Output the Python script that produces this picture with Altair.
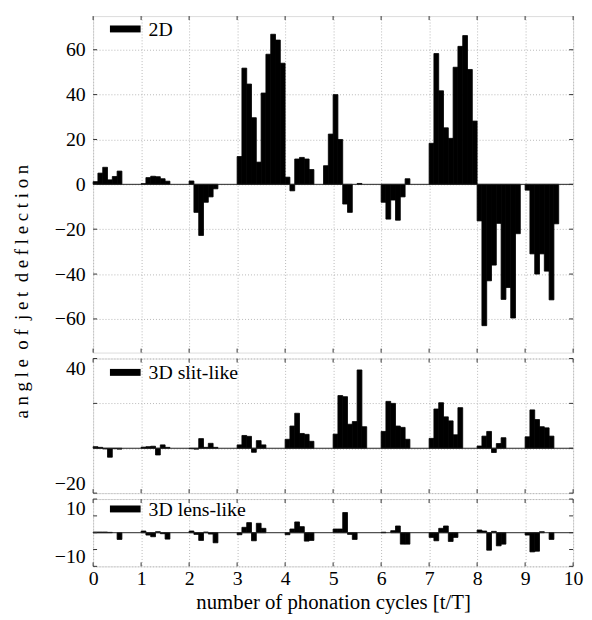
import altair as alt
import pandas as pd

FONT = "Liberation Serif, Times New Roman, DejaVu Serif, serif"
W = 485
H_TOP, H_MID, H_BOT = 340, 136, 68
STEP = 0.1  # sampling interval of the bars (cycles)

# ---------------- data ----------------
# 2D
t_2d = [0.0, 0.1, 0.2, 0.3, 0.4, 0.5,
        1.0, 1.1, 1.2, 1.3, 1.4, 1.5,
        2.0, 2.1, 2.2, 2.3, 2.4, 2.5,
        3.0, 3.1, 3.2, 3.3, 3.4, 3.5, 3.6, 3.7, 3.8, 3.9,
        4.0, 4.1, 4.2, 4.3, 4.4, 4.5, 4.8, 4.9,
        5.0, 5.1, 5.2, 5.3, 5.5,
        6.0, 6.1, 6.2, 6.3, 6.4, 6.5,
        7.0, 7.1, 7.2, 7.3, 7.4, 7.5, 7.6, 7.7, 7.8, 7.9,
        8.0, 8.1, 8.2, 8.3, 8.4, 8.5, 8.6, 8.7, 8.8,
        9.0, 9.1, 9.2, 9.3, 9.4, 9.5, 9.6]
v_2d = [1.2, 5, 7.6, 2, 3.5, 5.9,
        0.3, 3, 3.6, 3.4, 2.5, 1.4,
        1.5, -12.5, -22.8, -8, -5.6, -2,
        12.4, 51.8, 44.7, 29.7, 9.9, 40.7, 58, 66.9, 64.3, 54,
        3.2, -2.9, 11.3, 12, 11.3, 6.6, 8.3, 22.4,
        40, 20, -8.8, -12.5, 0.4,
        -8, -15.5, -7, -16, -5.6, 2.5,
        18.3, 58.3, 41.7, 25.2, 20.5, 52.2, 61.5, 66.3, 51.2, 28.2,
        -16.3, -63, -43, -36, -17.4, -51.3, -46, -59.6, -22,
        -2.6, -31, -40, -31, -38.7, -51.5, -17.6]

# 3D slit-like
t_slit = [0.0, 0.1, 0.2, 0.3, 0.4, 0.5,
          1.0, 1.1, 1.2, 1.3, 1.4, 1.5,
          2.0, 2.1, 2.2, 2.3, 2.4, 2.5,
          3.0, 3.1, 3.2, 3.3, 3.4, 3.5,
          4.0, 4.1, 4.2, 4.3, 4.4, 4.5,
          5.0, 5.1, 5.2, 5.3, 5.4, 5.5, 5.6,
          6.0, 6.1, 6.2, 6.3, 6.4, 6.5,
          7.0, 7.1, 7.2, 7.3, 7.4, 7.5, 7.6,
          8.0, 8.1, 8.2, 8.3, 8.4, 8.5,
          9.0, 9.1, 9.2, 9.3, 9.4, 9.5]
v_slit = [0.7, 0.4, -0.3, -4, -0.2, -0.4,
          0.5, 0.7, 0.9, -3, 1.5, 0.4,
          -0.2, -0.4, 4.3, 0.4, 2.2, 0.4,
          1.5, 5.7, 5.3, -1.8, 3.4, 1.5,
          4, 9.9, 15.6, 6.6, 6.2, 3.1,
          6.3, 23.5, 23, 10.7, 11.9, 34.9, 9.6,
          7.5, 20.9, 20, 9.9, 9.3, 4,
          4.4, 17.5, 20.3, 14, 12.2, 6, 18.1,
          1, 5.4, 7.5, -1.9, 2.1, 4.7,
          5.1, 17.1, 12.8, 9.6, 9.1, 5.4]

# 3D lens-like
t_lens = [0.0, 0.1, 0.2, 0.3, 0.5,
          1.0, 1.1, 1.2, 1.3, 1.4, 1.5,
          2.0, 2.1, 2.2, 2.3, 2.4, 2.5,
          3.0, 3.1, 3.2, 3.3, 3.4, 3.5,
          4.0, 4.1, 4.2, 4.3, 4.4, 4.5,
          5.0, 5.1, 5.2, 5.3, 5.4,
          6.0, 6.2, 6.3, 6.4, 6.5,
          7.0, 7.1, 7.2, 7.3, 7.4, 7.5,
          8.0, 8.1, 8.2, 8.3, 8.4, 8.5,
          9.0, 9.1, 9.2, 9.3, 9.5]
v_lens = [0.2, 0.2, 0.2, 0.1, -2,
          0.5, -0.7, -1.2, 0.3, -0.3, -1.9,
          0.5, -0.5, -2.3, 0.2, -0.4, -3,
          -0.6, 1.6, 3, -2.4, 2.8, 1.3,
          -0.6, 1.1, 3.2, 1.8, -2.5, -2.3,
          1.1, 1.1, 6, -0.5, -2,
          0.15, 0.6, 2, -3.4, -3.4,
          -1.4, -2.4, 1.3, 2, -2.6, -1.4,
          0.8, 0.5, -5.2, 0.4, -3.9, -3.4,
          -0.7, -5.7, -5.5, 0.3, -2]

legend_labels = ["2D", "3D slit-like", "3D lens-like"]
x_ticks = [0, 1, 2, 3, 4, 5, 6, 7, 8, 9, 10]
y_ticks_top = [-60, -40, -20, 0, 20, 40, 60]
y_ticks_mid = [-20, 0, 20, 40]
y_ticks_bot = [-10, -5, 0, 5, 10]
y_title = "\u00a0".join("angle") + "\u00a0\u00a0" + "\u00a0".join("of") + "\u00a0\u00a0" + \
          "\u00a0".join("jet") + "\u00a0\u00a0" + "\u00a0".join("deflection")
x_title = "number of phonation cycles [t/T]"

GRID = dict(grid=True, gridColor="#b8b8b8", gridDash=[1, 2], gridWidth=1)


def panel(t, v, label, ydom, yvals, h, show_x, yaxis_extra, legend_dy):
    df = pd.DataFrame({"t": t, "v": v})
    df["t2"] = df["t"] + STEP

    if show_x:
        xaxis = alt.Axis(values=x_ticks, labels=True, ticks=False, domain=False,
                         title=x_title, labelFont=FONT, labelFontSize=20,
                         labelPadding=2, labelFlush=False, labelColor="black",
                         titleFont=FONT, titleFontSize=21, titleFontWeight="normal",
                         titlePadding=4, titleColor="black", **GRID)
    else:
        xaxis = alt.Axis(values=x_ticks, labels=False, ticks=False, domain=False,
                         title=None, **GRID)

    yaxis = alt.Axis(values=yvals, ticks=False, domain=False, labelFont=FONT,
                     labelFontSize=20, labelPadding=8, labelFlush=True,
                     labelColor="black", **GRID, **yaxis_extra)

    bars = alt.Chart(df).mark_rect(color="black", stroke="black", strokeWidth=0.8).encode(
        x=alt.X("t:Q", scale=alt.Scale(domain=[0, 10], nice=False, zero=False), axis=xaxis),
        x2="t2:Q",
        y=alt.Y("v:Q", scale=alt.Scale(domain=ydom, nice=False), axis=yaxis),
        y2=alt.datum(0),
    )

    zero = alt.Chart(pd.DataFrame({"v": [0]})).mark_rule(color="#222", strokeWidth=1).encode(
        y="v:Q")

    xt = pd.DataFrame({"t": x_ticks})
    yt = pd.DataFrame({"v": yvals})
    tick_top = alt.Chart(xt).mark_rule(color="#333").encode(
        x="t:Q", y=alt.value(0), y2=alt.value(4))
    tick_bot = alt.Chart(xt).mark_rule(color="#333").encode(
        x="t:Q", y=alt.value(h - 4), y2=alt.value(h))
    tick_left = alt.Chart(yt).mark_rule(color="#333").encode(
        y="v:Q", x=alt.value(0), x2=alt.value(4))
    tick_right = alt.Chart(yt).mark_rule(color="#333").encode(
        y="v:Q", x=alt.value(W - 4), x2=alt.value(W))

    leg = pd.DataFrame({"label": [label]})
    swatch = alt.Chart(leg).mark_rule(color="black", strokeWidth=7).encode(
        x=alt.value(17), x2=alt.value(48), y=alt.value(legend_dy))
    text = alt.Chart(leg).mark_text(align="left", baseline="middle", font=FONT,
                                    fontSize=20, color="black").encode(
        x=alt.value(56), y=alt.value(legend_dy + 1), text="label:N")

    return alt.layer(bars, zero, tick_top, tick_bot, tick_left, tick_right,
                     swatch, text).properties(width=W, height=h)


top = panel(t_2d, v_2d, legend_labels[0], [-75, 75], y_ticks_top, H_TOP, False,
            dict(title=y_title, titleFont=FONT, titleFontSize=19,
                 titleFontWeight="normal", titleColor="black", titleAngle=270,
                 titleX=-66, titleY=278, titleAlign="center",
                 titleBaseline="alphabetic"), 13)
mid = panel(t_slit, v_slit, legend_labels[1], [-20, 40], y_ticks_mid, H_MID, False,
            dict(title=None, labelExpr="datum.value == 0 || datum.value == 20 ? '' : datum.label"), 14)
bot = panel(t_lens, v_lens, legend_labels[2], [-10, 10], y_ticks_bot, H_BOT, True,
            dict(title=None, labelExpr="datum.value == 10 || datum.value == -10 ? datum.label : ''"), 10)

chart = alt.vconcat(top, mid, bot, spacing=6, bounds="flush").properties(
    padding={"left": 4, "top": 4, "right": 0, "bottom": 0}
).configure_view(stroke="#333", strokeWidth=1).configure(
    background="white", font=FONT)

chart.save("out.html", embed_options={"renderer": "svg", "actions": False})
